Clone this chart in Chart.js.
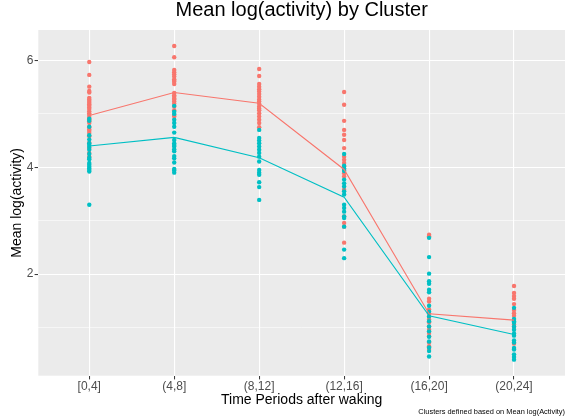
<!DOCTYPE html>
<html>
<head>
<meta charset="utf-8">
<script src="https://cdn.jsdelivr.net/npm/chart.js@4"></script>
<style>
  html, body { margin: 0; padding: 0; background: #ffffff; }
  canvas { display: block; }
</style>
</head>
<body>
<canvas id="chart" width="566" height="420"></canvas>
<script>
// Time windows after waking (x categories)
const periods = ['[0,4]', '(4,8]', '(8,12]', '(12,16]', '(16,20]', '(20,24]'];

// Labelled and unlabelled y gridlines
const yMajorTicks = [2, 4, 6];
const yMinorTicks = [1, 3, 5];

// Per-subject mean log(activity), one list per time period
const cluster1Values = [
  [5.97, 5.73, 5.51, 5.43, 5.40, 5.30, 5.27, 5.24, 5.21, 5.18, 5.15, 5.12, 5.09, 5.05, 5.01, 4.98, 4.94, 4.90, 4.86, 4.83, 4.75, 4.71, 4.68, 4.64, 4.58, 4.46, 4.36, 4.27, 4.20],
  [6.27, 6.06, 5.82, 5.78, 5.74, 5.70, 5.65, 5.62, 5.60, 5.56, 5.39, 5.35, 5.32, 5.29, 5.27, 5.23, 5.19, 5.14, 5.07, 4.98, 4.95],
  [5.84, 5.71, 5.56, 5.51, 5.46, 5.42, 5.37, 5.32, 5.27, 5.23, 5.19, 5.14, 5.10, 5.07, 5.01, 4.95, 4.89, 4.83, 4.75],
  [5.41, 5.17, 4.87, 4.70, 4.61, 4.51, 4.36, 4.20, 4.14, 4.08, 4.02, 3.95, 3.89, 3.83, 3.58, 3.08, 2.96, 2.89, 2.59],
  [2.74, 2.71, 1.54, 1.49, 1.34, 1.27, 1.20, 1.15, 1.10, 1.02, 0.96, 0.90, 0.84, 0.72, 0.65, 0.60],
  [1.78, 1.65, 1.59, 1.54, 1.44, 1.33, 1.27, 1.22, 1.06, 1.01, 0.70]
];
const cluster2Values = [
  [4.91, 4.87, 4.76, 4.60, 4.52, 4.45, 4.42, 4.38, 4.33, 4.25, 4.18, 4.15, 4.08, 4.05, 4.01, 3.98, 3.95, 3.92, 3.30],
  [5.15, 5.04, 5.00, 4.89, 4.83, 4.76, 4.65, 4.51, 4.45, 4.42, 4.39, 4.34, 4.30, 4.21, 4.17, 4.09, 3.97, 3.94, 3.90],
  [4.70, 4.55, 4.50, 4.45, 4.39, 4.33, 4.27, 4.20, 4.11, 3.95, 3.90, 3.86, 3.72, 3.63, 3.39],
  [4.25, 4.03, 3.98, 3.93, 3.77, 3.70, 3.64, 3.55, 3.49, 3.30, 3.24, 3.17, 3.08, 3.05, 2.89, 2.46, 2.30],
  [2.68, 2.32, 2.01, 1.87, 1.82, 1.71, 1.66, 1.41, 1.30, 1.21, 1.12, 1.02, 0.93, 0.83, 0.74, 0.63, 0.56, 0.46],
  [1.37, 1.16, 1.12, 1.09, 1.02, 0.96, 0.89, 0.85, 0.76, 0.72, 0.62, 0.59, 0.50, 0.45, 0.40]
];

// Cluster means per time period (connecting lines)
const cluster1Mean = [4.97, 5.40, 5.20, 3.96, 1.26, 1.14];
const cluster2Mean = [4.40, 4.56, 4.18, 3.44, 1.22, 0.87];

const RED = '#F8766D';
const TEAL = '#00BFC4';
const FONT = "'Liberation Sans', Arial, Helvetica, sans-serif";

function toPoints(groups) {
  const out = [];
  groups.forEach((vals, i) => vals.forEach(v => out.push({ x: i, y: v })));
  return out;
}
function toLine(means) {
  return means.map((v, i) => ({ x: i, y: v }));
}

// Grey panel behind the gridlines
const panelBackground = {
  id: 'panelBackground',
  beforeDraw(chart) {
    const { ctx, chartArea: a } = chart;
    ctx.save();
    ctx.fillStyle = '#EBEBEB';
    ctx.fillRect(a.left, a.top, a.right - a.left, a.bottom - a.top);
    ctx.restore();
  }
};

new Chart(document.getElementById('chart'), {
  type: 'scatter',
  data: {
    datasets: [
      {
        label: 'Cluster 1',
        data: toPoints(cluster1Values),
        backgroundColor: RED,
        borderWidth: 0,
        pointRadius: 2.2,
        order: 3
      },
      {
        label: 'Cluster 2',
        data: toPoints(cluster2Values),
        backgroundColor: TEAL,
        borderWidth: 0,
        pointRadius: 2.2,
        order: 2
      },
      {
        label: 'Cluster 1 mean',
        data: toLine(cluster1Mean),
        showLine: true,
        borderColor: RED,
        borderWidth: 1.1,
        pointRadius: 0,
        order: 1
      },
      {
        label: 'Cluster 2 mean',
        data: toLine(cluster2Mean),
        showLine: true,
        borderColor: TEAL,
        borderWidth: 1.1,
        pointRadius: 0,
        order: 0
      }
    ]
  },
  options: {
    responsive: false,
    animation: false,
    devicePixelRatio: 1,
    layout: { autoPadding: false, padding: { left: 0, right: 1, top: 0, bottom: 0 } },
    plugins: {
      legend: { display: false },
      tooltip: { enabled: false },
      title: {
        display: true,
        text: 'Mean log(activity) by Cluster',
        color: '#000000',
        fullSize: false,
        font: { family: FONT, size: 20, weight: 'normal', lineHeight: 1 },
        padding: { top: 0.5, bottom: 9.5 }
      },
      subtitle: {
        display: true,
        position: 'bottom',
        align: 'end',
        fullSize: false,
        text: 'Clusters defined based on Mean log(Activity)',
        color: '#000000',
        font: { family: FONT, size: 7.4, weight: 'normal', lineHeight: 1 },
        padding: { top: 0, bottom: 4.6 }
      }
    },
    scales: {
      x: {
        type: 'linear',
        min: -0.6,
        max: 5.6,
        afterBuildTicks(scale) {
          scale.ticks = periods.map((_, i) => ({ value: i }));
        },
        afterFit(scale) { scale.height = 32.3; },
        ticks: {
          autoSkip: false,
          maxRotation: 0,
          padding: 1,
          color: '#4D4D4D',
          font: { family: FONT, size: 12, lineHeight: 1 },
          callback: v => periods[v]
        },
        grid: {
          color: '#FFFFFF',
          lineWidth: 1.1,
          tickColor: '#333333',
          tickLength: 3.7,
          tickWidth: 1
        },
        border: { display: false },
        title: {
          display: true,
          text: 'Time Periods after waking',
          color: '#000000',
          font: { family: FONT, size: 14, lineHeight: 1 },
          padding: { top: 0, bottom: 1 }
        }
      },
      y: {
        type: 'linear',
        min: 0.1,
        max: 6.57,
        afterBuildTicks(scale) {
          scale.ticks = yMinorTicks.concat(yMajorTicks).sort((a, b) => a - b).map(v => ({ value: v }));
        },
        afterFit(scale) { scale.width = 38.3; },
        ticks: {
          padding: 1.2,
          color: '#4D4D4D',
          font: { family: FONT, size: 12, lineHeight: 1 },
          callback: v => (yMajorTicks.includes(v) ? String(v) : '')
        },
        grid: {
          color: '#FFFFFF',
          lineWidth: ctx => (yMajorTicks.includes(ctx.tick && ctx.tick.value) ? 1.1 : 0.55),
          tickColor: ctx => (yMajorTicks.includes(ctx.tick && ctx.tick.value) ? '#333333' : 'rgba(0,0,0,0)'),
          tickLength: 3.7,
          tickWidth: 1
        },
        border: { display: false },
        title: {
          display: true,
          text: 'Mean log(activity)',
          color: '#000000',
          font: { family: FONT, size: 14, lineHeight: 1 },
          padding: { top: 10, bottom: 0 }
        }
      }
    }
  },
  plugins: [panelBackground]
});
</script>
</body>
</html>
